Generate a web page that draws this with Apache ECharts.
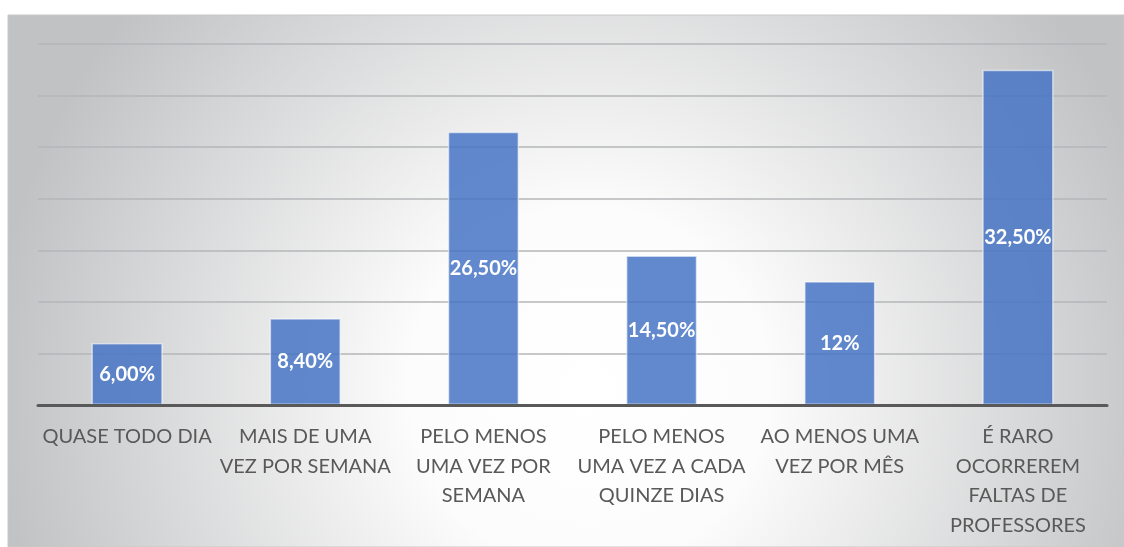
<!DOCTYPE html>
<html>
<head>
<meta charset="utf-8">
<script src="https://cdn.jsdelivr.net/npm/echarts@6/dist/echarts.min.js"></script>
<style>
  html, body { margin: 0; padding: 0; background: #fff; }
  #chart { width: 1124px; height: 547px; }
</style>
</head>
<body>
<div id="chart"></div>
<script>
const categories = [
  'QUASE TODO DIA',
  'MAIS DE UMA\nVEZ POR SEMANA',
  'PELO MENOS\nUMA VEZ POR\nSEMANA',
  'PELO MENOS\nUMA VEZ A CADA\nQUINZE DIAS',
  'AO MENOS UMA\nVEZ POR MÊS',
  'É RARO\nOCORREREM\nFALTAS DE\nPROFESSORES'
]
const values = [6, 8.4, 26.5, 14.5, 12, 32.5]
const valueLabels = ['6,00%', '8,40%', '26,50%', '14,50%', '12%', '32,50%']

let myChart = echarts.init(document.getElementById('chart'), null, {renderer: 'canvas'})
let option = {
  animation: false,
  graphic: [
    {
      type: 'rect',
      z: -10,
      silent: true,
      shape: {x: 8, y: 15, width: 1116, height: 532},
      style: {
        fill: {
          type: 'radial',
          x: 0.52,
          y: 0.7,
          r: 1.12,
          colorStops: [
            {offset: 0, color: '#ffffff'},
            {offset: 0.3, color: '#fcfcfc'},
            {offset: 1, color: '#c1c2c4'}
          ],
          global: false
        },
        stroke: '#c8c8c8',
        lineWidth: 1
      }
    }
  ],
  grid: {
    left: 38,
    right: 17,
    top: 44,
    bottom: 142,
    containLabel: false
  },
  xAxis: {
    type: 'category',
    data: categories,
    axisTick: {show: false},
    axisLine: {
      show: true,
      lineStyle: {color: '#595959', width: 3}
    },
    axisLabel: {
      interval: 0,
      color: '#595959',
      fontFamily: 'Lato',
      fontSize: 20,
      lineHeight: 29.5,
      margin: 17,
      align: 'center'
    },
    z: 5
  },
  yAxis: {
    type: 'value',
    min: 0,
    max: 35,
    interval: 5,
    axisLabel: {show: false},
    axisLine: {show: false},
    axisTick: {show: false},
    splitLine: {
      show: true,
      lineStyle: {color: '#b5b6b8', width: 1.5}
    }
  },
  series: [
    {
      type: 'bar',
      data: values,
      barWidth: '40%',
      itemStyle: {
        color: 'rgba(68,114,196,0.84)',
        borderColor: 'rgba(255,255,255,0.55)',
        borderWidth: 1.5
      },
      label: {
        show: true,
        position: 'inside',
        color: '#ffffff',
        fontFamily: 'Lato',
        fontWeight: 'bold',
        fontSize: 20,
        formatter: function(p) {
          return valueLabels[p.dataIndex]
        }
      }
    }
  ]
}
myChart.setOption(option)
</script>
</body>
</html>
